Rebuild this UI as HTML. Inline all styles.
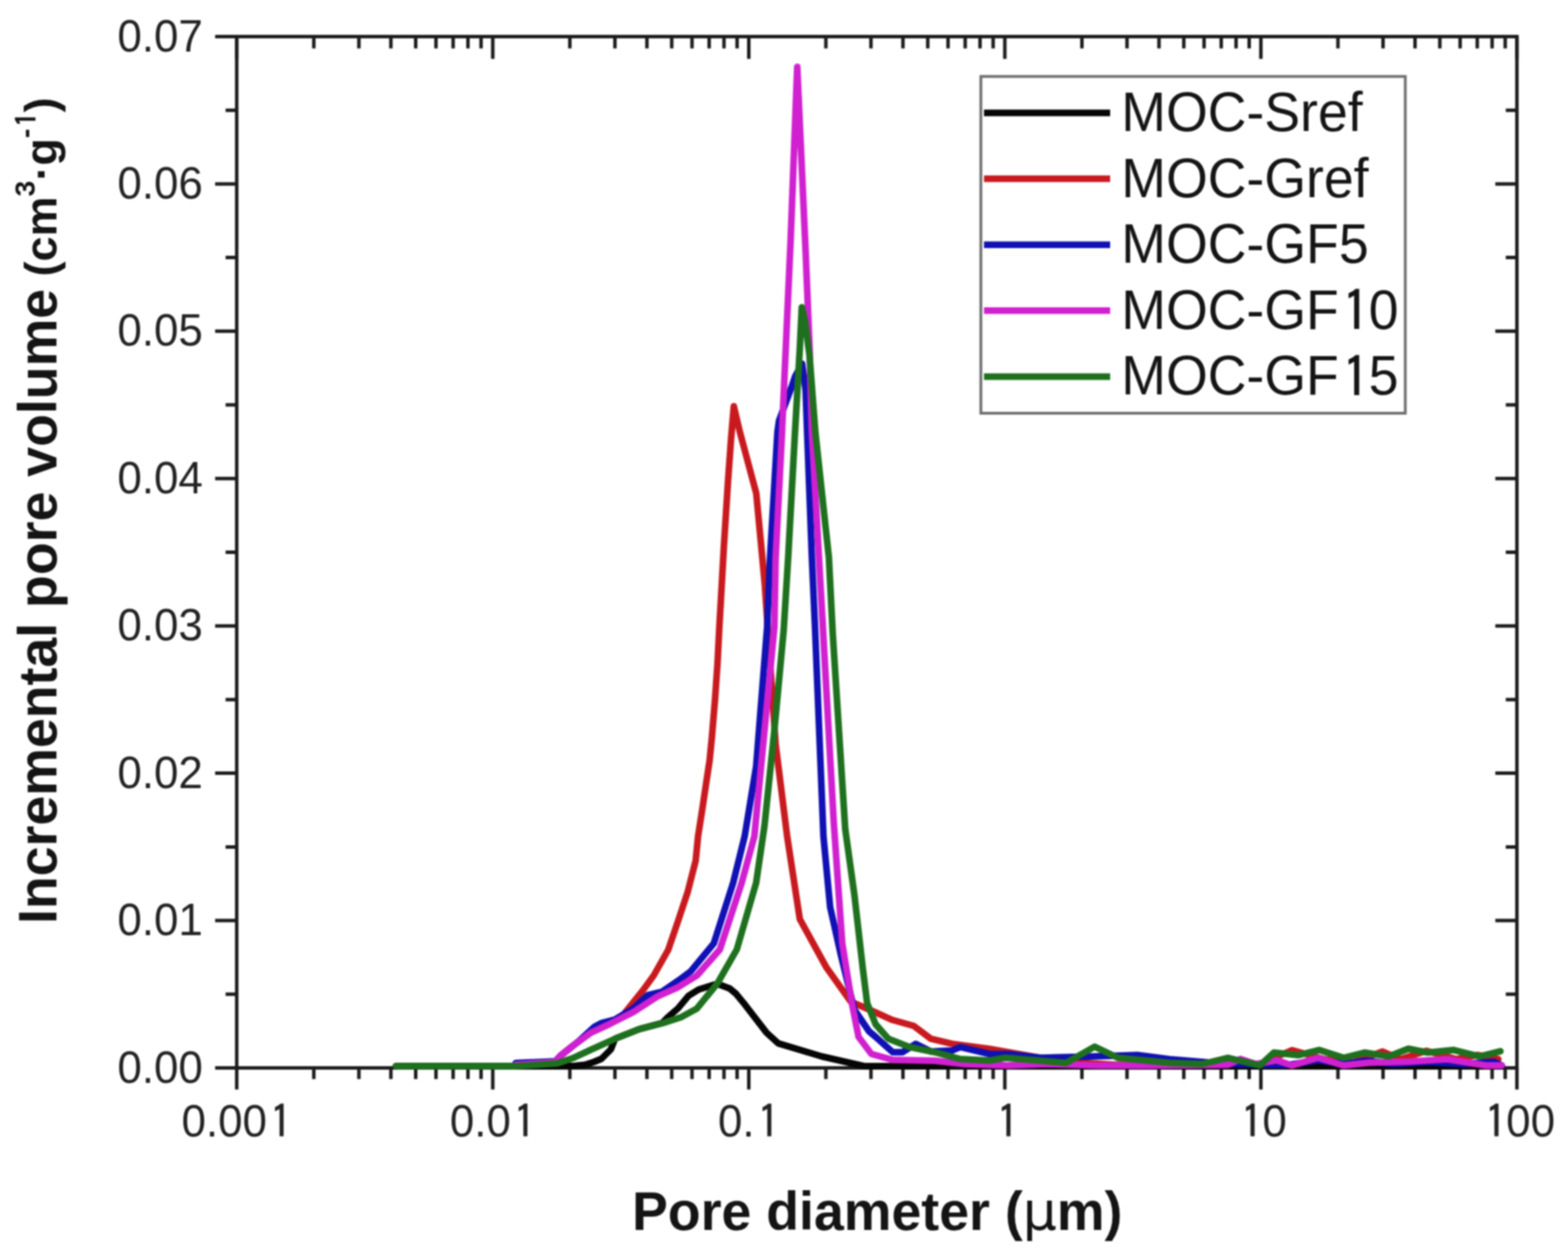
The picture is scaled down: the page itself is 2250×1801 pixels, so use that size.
<!DOCTYPE html>
<html><head><meta charset="utf-8"><title>Incremental pore volume vs pore diameter</title>
<style>
html,body{margin:0;padding:0;background:#fff;width:2250px;height:1801px;overflow:hidden}
svg{display:block}
#w{filter:blur(1px)}
text{font-family:"Liberation Sans",Arial,sans-serif;fill:#141414}
.tl text{font-size:63px;fill:#222}
.tl .one{stroke:#222}
.lg .one{stroke:#141414}
.ttl{font-size:77px;font-weight:bold}
.lg text{font-size:77px}
</style></head><body>
<div id="w"><svg width="2250" height="1801" viewBox="0 0 2250 1801">
<path d="M339.7 1532.5V1563.5 M339.7 52.5V84.5 M450.3 1532.5V1548.5 M450.3 52.5V69.5 M515.0 1532.5V1548.5 M515.0 52.5V69.5 M560.9 1532.5V1548.5 M560.9 52.5V69.5 M596.5 1532.5V1548.5 M596.5 52.5V69.5 M625.6 1532.5V1548.5 M625.6 52.5V69.5 M650.2 1532.5V1548.5 M650.2 52.5V69.5 M671.5 1532.5V1548.5 M671.5 52.5V69.5 M690.3 1532.5V1548.5 M690.3 52.5V69.5 M707.1 1532.5V1563.5 M707.1 52.5V84.5 M817.7 1532.5V1548.5 M817.7 52.5V69.5 M882.4 1532.5V1548.5 M882.4 52.5V69.5 M928.3 1532.5V1548.5 M928.3 52.5V69.5 M963.9 1532.5V1548.5 M963.9 52.5V69.5 M993.0 1532.5V1548.5 M993.0 52.5V69.5 M1017.6 1532.5V1548.5 M1017.6 52.5V69.5 M1038.9 1532.5V1548.5 M1038.9 52.5V69.5 M1057.7 1532.5V1548.5 M1057.7 52.5V69.5 M1074.5 1532.5V1563.5 M1074.5 52.5V84.5 M1185.1 1532.5V1548.5 M1185.1 52.5V69.5 M1249.8 1532.5V1548.5 M1249.8 52.5V69.5 M1295.7 1532.5V1548.5 M1295.7 52.5V69.5 M1331.3 1532.5V1548.5 M1331.3 52.5V69.5 M1360.4 1532.5V1548.5 M1360.4 52.5V69.5 M1385.0 1532.5V1548.5 M1385.0 52.5V69.5 M1406.3 1532.5V1548.5 M1406.3 52.5V69.5 M1425.1 1532.5V1548.5 M1425.1 52.5V69.5 M1441.9 1532.5V1563.5 M1441.9 52.5V84.5 M1552.5 1532.5V1548.5 M1552.5 52.5V69.5 M1617.2 1532.5V1548.5 M1617.2 52.5V69.5 M1663.1 1532.5V1548.5 M1663.1 52.5V69.5 M1698.7 1532.5V1548.5 M1698.7 52.5V69.5 M1727.8 1532.5V1548.5 M1727.8 52.5V69.5 M1752.4 1532.5V1548.5 M1752.4 52.5V69.5 M1773.7 1532.5V1548.5 M1773.7 52.5V69.5 M1792.5 1532.5V1548.5 M1792.5 52.5V69.5 M1809.3 1532.5V1563.5 M1809.3 52.5V84.5 M1919.9 1532.5V1548.5 M1919.9 52.5V69.5 M1984.6 1532.5V1548.5 M1984.6 52.5V69.5 M2030.5 1532.5V1548.5 M2030.5 52.5V69.5 M2066.1 1532.5V1548.5 M2066.1 52.5V69.5 M2095.2 1532.5V1548.5 M2095.2 52.5V69.5 M2119.8 1532.5V1548.5 M2119.8 52.5V69.5 M2141.1 1532.5V1548.5 M2141.1 52.5V69.5 M2159.9 1532.5V1548.5 M2159.9 52.5V69.5 M2176.7 1532.5V1563.5 M2176.7 52.5V84.5 M339.7 1532.5H308.7 M2176.7 1532.5H2145.7 M339.7 1426.8H323.7 M2176.7 1426.8H2160.7 M339.7 1321.1H308.7 M2176.7 1321.1H2145.7 M339.7 1215.4H323.7 M2176.7 1215.4H2160.7 M339.7 1109.6H308.7 M2176.7 1109.6H2145.7 M339.7 1003.9H323.7 M2176.7 1003.9H2160.7 M339.7 898.2H308.7 M2176.7 898.2H2145.7 M339.7 792.5H323.7 M2176.7 792.5H2160.7 M339.7 686.8H308.7 M2176.7 686.8H2145.7 M339.7 581.1H323.7 M2176.7 581.1H2160.7 M339.7 475.3H308.7 M2176.7 475.3H2145.7 M339.7 369.6H323.7 M2176.7 369.6H2160.7 M339.7 263.9H308.7 M2176.7 263.9H2145.7 M339.7 158.2H323.7 M2176.7 158.2H2160.7 M339.7 52.5H308.7 M2176.7 52.5H2145.7" stroke="#1c1c1c" stroke-width="5" fill="none"/><rect x="339.7" y="52.5" width="1837.0" height="1480.0" stroke="#1c1c1c" stroke-width="5" fill="none"/><g class="tl"><text transform="translate(291,1553.5) scale(1,1.035)" text-anchor="end">0.00</text><text transform="translate(291,1342.1) scale(1,1.035)" text-anchor="end">0.01</text><text transform="translate(291,1130.6) scale(1,1.035)" text-anchor="end">0.02</text><text transform="translate(291,919.2) scale(1,1.035)" text-anchor="end">0.03</text><text transform="translate(291,707.8) scale(1,1.035)" text-anchor="end">0.04</text><text transform="translate(291,496.3) scale(1,1.035)" text-anchor="end">0.05</text><text transform="translate(291,284.9) scale(1,1.035)" text-anchor="end">0.06</text><text transform="translate(291,73.5) scale(1,1.035)" text-anchor="end">0.07</text><text transform="translate(339.7,1631) scale(1,1.035)" text-anchor="middle">0.00<tspan class="one" font-family="IPAGothic,Liberation Sans,sans-serif" dx="4.35" dy="3.28" stroke-width="0.69">1</tspan></text><text transform="translate(707.1,1631) scale(1,1.035)" text-anchor="middle">0.0<tspan class="one" font-family="IPAGothic,Liberation Sans,sans-serif" dx="4.35" dy="3.28" stroke-width="0.69">1</tspan></text><text transform="translate(1074.5,1631) scale(1,1.035)" text-anchor="middle">0.<tspan class="one" font-family="IPAGothic,Liberation Sans,sans-serif" dx="4.35" dy="3.28" stroke-width="0.69">1</tspan></text><text transform="translate(1441.9,1631) scale(1,1.035)" text-anchor="middle"><tspan class="one" font-family="IPAGothic,Liberation Sans,sans-serif" dx="4.35" dy="3.28" stroke-width="0.69">1</tspan></text><text transform="translate(1809.3,1631) scale(1,1.035)" text-anchor="middle"><tspan class="one" font-family="IPAGothic,Liberation Sans,sans-serif" dx="4.35" dy="3.28" stroke-width="0.69">1</tspan><tspan dx="-0.82" dy="-3.28">0</tspan></text><text transform="translate(2176.7,1631) scale(1,1.035)" text-anchor="middle"><tspan class="one" font-family="IPAGothic,Liberation Sans,sans-serif" dx="4.35" dy="3.28" stroke-width="0.69">1</tspan><tspan dx="-0.82" dy="-3.28">0</tspan>0</text></g>
<polyline points="568.0,1530.0 800.0,1530.0 825.0,1529.5 839.4,1528.0 852.0,1524.0 863.0,1519.5 876.5,1506.0 882.5,1490.7 917.3,1476.8 950.0,1468.2 958.0,1460.0 973.0,1447.0 988.0,1429.0 1002.6,1420.0 1025.0,1413.0 1031.0,1412.5 1047.0,1418.5 1056.0,1426.0 1069.4,1442.3 1100.0,1482.0 1117.0,1497.4 1179.0,1516.0 1240.0,1530.0 1300.0,1530.0 2155.0,1530.0" fill="none" stroke="#050505" stroke-width="9.5" stroke-linejoin="round" stroke-linecap="round"/><polyline points="740.0,1528.0 797.0,1524.0 804.3,1515.0 821.7,1501.0 847.7,1482.0 873.8,1470.0 883.0,1463.0 894.7,1456.0 922.5,1421.2 938.0,1400.0 958.9,1363.0 972.9,1322.0 986.8,1280.0 998.3,1235.0 1001.7,1200.0 1007.8,1161.0 1013.0,1126.0 1018.3,1091.0 1021.7,1056.0 1026.0,1004.0 1029.6,952.0 1032.2,900.0 1034.5,860.0 1038.7,785.0 1044.5,693.0 1049.0,630.0 1053.0,583.0 1061.7,620.0 1085.2,708.0 1097.3,837.0 1113.0,1068.0 1129.5,1200.0 1147.7,1319.0 1186.0,1388.6 1220.7,1437.3 1256.5,1452.9 1280.8,1463.8 1311.2,1472.3 1335.6,1490.6 1366.0,1497.9 1420.0,1505.2 1502.0,1519.8 1548.0,1525.0 1600.0,1528.0 1700.0,1528.0 1760.0,1524.0 1808.0,1527.0 1854.0,1507.0 1900.0,1520.0 1940.0,1525.0 1984.0,1509.0 2010.0,1520.0 2047.0,1508.0 2090.0,1520.0 2120.0,1514.0 2150.0,1520.0" fill="none" stroke="#c81a1e" stroke-width="9.5" stroke-linejoin="round" stroke-linecap="round"/><polyline points="740.0,1525.5 797.0,1523.0 804.3,1515.0 830.4,1494.2 853.0,1473.4 863.4,1468.1 882.5,1463.0 908.6,1447.3 929.4,1428.2 950.3,1423.0 978.0,1403.8 991.3,1393.8 1024.3,1353.8 1052.0,1267.0 1068.6,1200.0 1085.0,1100.0 1100.8,900.0 1105.0,800.0 1115.6,620.0 1117.8,604.0 1136.0,555.0 1141.0,540.0 1151.0,522.0 1156.0,560.0 1158.2,620.0 1165.0,800.0 1169.5,900.0 1181.6,1200.0 1191.2,1301.7 1206.8,1371.2 1226.0,1449.0 1247.0,1480.0 1256.5,1488.0 1281.0,1510.0 1295.0,1510.0 1314.0,1498.0 1336.0,1509.0 1366.0,1507.6 1378.0,1502.7 1420.0,1512.5 1446.0,1512.4 1493.0,1518.0 1571.0,1516.0 1632.0,1514.0 1678.0,1520.0 1750.0,1526.0 1808.0,1528.0 1850.0,1528.0 1891.0,1521.6 1930.0,1527.0 1960.0,1522.0 2000.0,1527.0 2050.0,1524.0 2100.0,1527.0 2143.6,1523.5 2155.0,1529.0" fill="none" stroke="#1010b4" stroke-width="9.5" stroke-linejoin="round" stroke-linecap="round"/><polyline points="740.0,1528.0 797.0,1524.0 804.3,1515.0 821.7,1501.0 847.7,1482.0 873.8,1470.0 908.6,1452.5 943.4,1430.0 971.2,1417.7 1000.0,1400.0 1033.0,1362.5 1064.3,1267.0 1082.5,1200.0 1111.2,900.0 1113.0,800.0 1121.7,630.0 1134.5,345.0 1144.0,96.0 1156.0,360.0 1161.7,500.0 1165.0,620.0 1180.8,900.0 1196.4,1180.0 1208.6,1353.8 1222.4,1439.5 1232.0,1488.0 1250.4,1512.5 1280.8,1521.0 1341.7,1522.2 1384.0,1527.0 1446.0,1529.0 1500.0,1527.0 1576.0,1529.0 1650.0,1529.0 1762.0,1528.0 1780.0,1519.8 1802.0,1527.0 1832.0,1521.6 1854.0,1529.0 1891.0,1518.0 1928.0,1529.0 1965.0,1525.0 2021.0,1523.5 2077.0,1520.0 2132.0,1529.0 2155.0,1529.0" fill="none" stroke="#d020d0" stroke-width="9.5" stroke-linejoin="round" stroke-linecap="round"/><polyline points="568.0,1530.0 740.0,1530.0 800.0,1526.0 822.0,1518.5 848.0,1506.4 882.5,1490.7 917.3,1476.8 952.0,1468.0 978.0,1459.4 1000.0,1447.3 1029.5,1411.2 1057.3,1362.5 1085.0,1267.0 1097.0,1185.0 1111.0,1050.0 1124.5,905.0 1131.0,800.0 1140.8,620.0 1147.7,500.0 1150.5,441.0 1155.0,460.0 1161.6,510.0 1170.0,620.0 1189.4,800.0 1195.0,910.0 1212.9,1190.0 1226.0,1284.0 1238.2,1390.8 1244.3,1439.5 1256.5,1470.0 1274.7,1490.6 1305.2,1502.7 1341.7,1510.0 1378.0,1519.8 1420.0,1522.0 1442.7,1518.0 1530.0,1525.3 1570.7,1502.0 1604.0,1518.0 1678.0,1525.3 1725.0,1527.0 1762.0,1518.0 1808.0,1529.0 1828.0,1510.5 1863.5,1514.2 1893.0,1506.8 1928.0,1518.0 1958.0,1510.5 1993.0,1516.0 2021.0,1505.0 2049.0,1510.5 2086.0,1506.8 2123.0,1516.0 2153.0,1508.6" fill="none" stroke="#1e701e" stroke-width="9.5" stroke-linejoin="round" stroke-linecap="round"/><g class="lg"><rect x="1407.5" y="109.7" width="609.0" height="483.3" fill="#fff" stroke="#6e6e6e" stroke-width="4"/><line x1="1412" y1="162.0" x2="1593" y2="162.0" stroke="#050505" stroke-width="9.5"/><text transform="translate(1609,188.0) scale(1,1.035)">MOC-Sref</text><line x1="1412" y1="256.6" x2="1593" y2="256.6" stroke="#c81a1e" stroke-width="9.5"/><text transform="translate(1609,282.6) scale(1,1.035)">MOC-Gref</text><line x1="1412" y1="351.2" x2="1593" y2="351.2" stroke="#1010b4" stroke-width="9.5"/><text transform="translate(1609,377.2) scale(1,1.035)">MOC-GF5</text><line x1="1412" y1="445.8" x2="1593" y2="445.8" stroke="#d020d0" stroke-width="9.5"/><text transform="translate(1609,471.8) scale(1,1.035)">MOC-GF<tspan class="one" font-family="IPAGothic,Liberation Sans,sans-serif" dx="5.31" dy="4.00" stroke-width="0.85">1</tspan><tspan dx="-1.00" dy="-4.00">0</tspan></text><line x1="1412" y1="540.4" x2="1593" y2="540.4" stroke="#1e701e" stroke-width="9.5"/><text transform="translate(1609,566.4) scale(1,1.035)">MOC-GF<tspan class="one" font-family="IPAGothic,Liberation Sans,sans-serif" dx="5.31" dy="4.00" stroke-width="0.85">1</tspan><tspan dx="-1.00" dy="-4.00">5</tspan></text></g><text class="ttl" x="907" y="1764.5">Pore diameter (<tspan font-weight="normal" font-family="DejaVu Sans,sans-serif">μ</tspan>m)</text><text class="ttl" transform="translate(81,1326) rotate(-90)" x="0" y="0">Incremental pore volume <tspan font-size="64.5" dx="-3.5">(cm</tspan><tspan font-size="41" dy="-31">3</tspan><tspan font-size="64.5" dy="31">·g</tspan><tspan font-size="41" dy="-31">-</tspan><tspan font-size="41" font-family="IPAGothic,Liberation Sans,sans-serif" dx="2.83" dy="2.13">1</tspan><tspan font-size="64.5" dy="28.87">)</tspan></text>
</svg></div>
</body></html>
